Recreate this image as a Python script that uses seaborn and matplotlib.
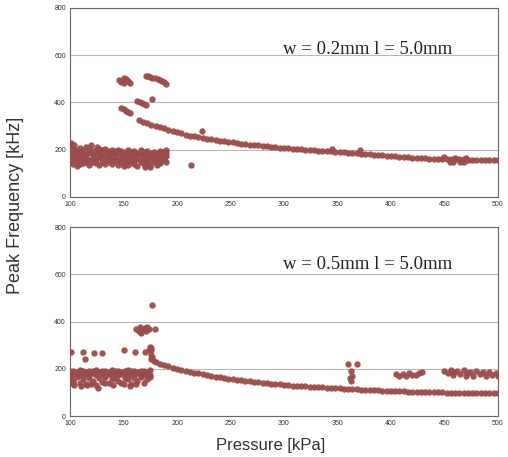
import numpy as np
import pandas as pd
import matplotlib
matplotlib.use("Agg")
import matplotlib.pyplot as plt
import seaborn as sns

# ---------------- top panel: w = 0.2mm ----------------
top_curve_p = [164, 168, 172, 176, 180, 184, 188, 192, 196, 200, 204, 208, 212, 216, 220,
               224, 228, 232, 236, 240, 244, 248, 252, 256, 260, 264, 268, 272, 276, 280,
               284, 288, 292, 296, 300, 304, 308, 312, 316, 320, 324, 328, 332, 336, 340,
               344, 348, 352, 356, 360, 364, 368, 372, 376, 380, 384, 388, 392, 396, 400,
               404, 408, 412, 416, 420, 424, 428, 432, 436, 440, 444, 448, 452, 456, 460,
               464, 468, 472, 476, 480, 484, 488, 492, 496, 500]
top_curve_f = [324, 318, 312, 306, 300, 295, 290, 284, 279, 274, 269, 264, 260, 256, 252,
               249, 246, 244, 242, 239, 236, 234, 231, 229, 226, 224, 222, 220, 218, 216,
               214, 212, 211, 209, 207, 206, 204, 203, 201, 200, 199, 197, 196, 195, 194,
               193, 192, 190, 189, 187, 186, 185, 183, 182, 180, 179, 177, 176, 174, 173,
               172, 170, 169, 168, 166, 165, 164, 163, 162, 162, 161, 161, 160, 160, 159,
               159, 159, 158, 158, 158, 158, 157, 157, 157, 157]

top_band_p = [100, 103, 106, 109, 112, 115, 118, 121, 124, 127, 130, 133, 136, 139, 142, 145,
              148, 151, 154, 157, 160, 163, 166, 169, 172, 175, 178, 181, 184, 187, 190]
top_band_hi = [215, 205, 200, 208, 198, 210, 203, 196, 200, 205, 198, 202, 195, 199, 193, 200,
               196, 190, 198, 192, 195, 188, 197, 190, 194, 186, 192, 188, 195, 190, 200]
top_band_mid = [186, 182, 190, 184, 188, 180, 186, 183, 189, 181, 187, 184, 180, 185, 182, 186,
                180, 184, 178, 183, 181, 176, 184, 179, 182, 175, 180, 178, 184, 176, 185]
top_band_lo = [168, 162, 170, 160, 166, 164, 158, 167, 161, 168, 163, 158, 165, 160, 166, 158,
               164, 160, 155, 166, 159, 162, 157, 165, 160, 158, 164, 156, 162, 168, 172]
top_band_bot = [148, 140, 152, 138, 145, 150, 136, 147, 142, 134, 150, 140, 146, 138, 152, 137,
                148, 143, 135, 150, 140, 132, 148, 138, 145, 128, 150, 135, 142, 155, 150]

top_extra_p = [101, 104, 120, 125, 106, 150, 170, 175, 183, 188,
               146, 148, 150, 150, 152, 154, 156,
               148, 150, 152, 154, 156,
               163, 165, 167, 169, 171, 177,
               171, 173, 175, 177, 179, 182, 184, 186, 188, 190,
               223, 213, 345, 371,
               450, 455, 460, 465, 470, 458, 468]
top_extra_f = [228, 222, 218, 212, 130, 130, 125, 132, 150, 160,
               495, 488, 482, 505, 498, 490, 484,
               378, 372, 366, 360, 354,
               405, 400, 396, 392, 388, 415,
               512, 510, 507, 504, 502, 500, 496, 492, 486, 480,
               278, 136, 201, 200,
               168, 148, 166, 146, 165, 150, 150]

# ---------------- bottom panel: w = 0.5mm ----------------
bot_curve_p = [176, 178, 180, 184, 188, 192, 196, 200, 204, 208, 212, 216, 220, 224, 228,
               232, 236, 240, 244, 248, 252, 256, 260, 264, 268, 272, 276, 280, 284, 288,
               292, 296, 300, 304, 308, 312, 316, 320, 324, 328, 332, 336, 340, 344, 348,
               352, 356, 360, 364, 368, 372, 376, 380, 384, 388, 392, 396, 400, 404, 408,
               412, 416, 420, 424, 428, 432, 436, 440, 444, 448, 452, 456, 460, 464, 468,
               472, 476, 480, 484, 488, 492, 496, 500]
bot_curve_f = [240, 232, 228, 222, 216, 210, 205, 200, 196, 192, 188, 184, 180, 176, 173,
               170, 167, 164, 161, 158, 156, 153, 151, 149, 147, 145, 143, 141, 139, 137,
               135, 134, 132, 131, 129, 128, 127, 125, 124, 123, 122, 121, 120, 119, 118,
               117, 116, 115, 114, 113, 112, 111, 110, 109, 108, 107, 106, 105, 105, 104,
               104, 103, 103, 102, 102, 101, 101, 100, 100, 100, 99, 99, 99, 98, 98,
               98, 98, 97, 97, 97, 97, 96, 96]

bot_band_p = [100, 103, 106, 109, 112, 115, 118, 121, 124, 127, 130, 133, 136, 139, 142, 145,
              148, 151, 154, 157, 160, 163, 166, 169, 172, 175]
bot_band_hi = [190, 192, 188, 193, 190, 186, 192, 189, 194, 188, 191, 190, 187, 193, 189, 192,
               188, 190, 194, 189, 191, 187, 192, 190, 188, 193]
bot_band_mid = [178, 172, 180, 175, 170, 178, 174, 180, 172, 176, 179, 171, 177, 175, 180, 173,
                176, 178, 171, 177, 174, 180, 172, 176, 178, 174]
bot_band_lo = [160, 150, 165, 140, 158, 135, 162, 148, 130, 160, 145, 165, 138, 155, 162, 150,
               140, 163, 158, 135, 160, 150, 165, 140, 158, 165]

bot_extra_p = [101, 104, 110, 116, 120, 126, 133, 140, 150, 156, 162, 100, 103,
               101, 112, 114, 122, 130, 150, 161, 170, 174, 175,
               162, 164, 165, 166, 168, 170, 171, 172, 174, 179, 177,
               176, 176, 176, 177,
               360, 368, 363, 362, 364, 363,
               405, 408, 411, 414, 417, 420, 423, 426, 429,
               450, 453, 456, 459, 462, 465, 468, 471, 474, 477, 480, 483, 486, 489,
               492, 495, 498, 500, 458, 470]
bot_extra_f = [140, 132, 128, 130, 135, 120, 138, 132, 136, 128, 135, 150, 145,
               272, 272, 242, 266, 268, 280, 271, 272, 280, 293,
               370, 360, 375, 352, 365, 372, 358, 378, 368, 368, 470,
               290, 280, 260, 250,
               222, 222, 190, 163, 168, 147,
               178, 170, 176, 168, 180, 172, 175, 182, 185,
               192, 182, 195, 185, 190, 178, 195, 183, 188, 170, 192, 178, 185, 170,
               188, 175, 182, 168, 172, 170]


def panel_frame(curve_p, curve_f, band_p, band_rows, extra_p, extra_f):
    xs = list(curve_p) + list(extra_p)
    ys = list(curve_f) + list(extra_f)
    for row in band_rows:
        xs += list(band_p)
        ys += list(row)
    return pd.DataFrame({"Pressure": xs, "Freq": ys})


top_df = panel_frame(top_curve_p, top_curve_f, top_band_p,
                     [top_band_hi, top_band_mid, top_band_lo, top_band_bot],
                     top_extra_p, top_extra_f)
bot_df = panel_frame(bot_curve_p, bot_curve_f, bot_band_p,
                     [bot_band_hi, bot_band_mid, bot_band_lo],
                     bot_extra_p, bot_extra_f)

sns.set_style("white")
plt.rcParams["font.family"] = ["Liberation Sans", "DejaVu Sans"]

fig = plt.figure(figsize=(5.08, 4.57), dpi=100)
ax1 = fig.add_axes([0.138, 0.569, 0.842, 0.4135])
ax2 = fig.add_axes([0.138, 0.0897, 0.842, 0.4135])

dot = "#9b4c4c"
labels = ["w = 0.2mm l = 5.0mm", "w = 0.5mm l = 5.0mm"]
label_y = [625, 640]

for ax, df, lab, ly in zip([ax1, ax2], [top_df, bot_df], labels, label_y):
    sns.scatterplot(data=df, x="Pressure", y="Freq", ax=ax, color=dot,
                    s=21, linewidth=0, alpha=0.95, zorder=3)
    ax.set_xlim(100, 500)
    ax.set_ylim(0, 800)
    ax.set_xticks(np.arange(100, 501, 50))
    ax.set_yticks(np.arange(0, 801, 200))
    ax.yaxis.grid(True, color="#b8b8b8", linewidth=0.8)
    ax.xaxis.grid(False)
    ax.tick_params(axis="both", labelsize=5, length=0, pad=3, colors="#333333")
    for sp in ax.spines.values():
        sp.set_color("#666666")
        sp.set_linewidth(0.8)
    ax.set_xlabel("")
    ax.set_ylabel("")
    ax.text(378, ly, lab, ha="center", va="center", fontsize=13.5,
            family="Liberation Serif", color="#222222")

fig.text(0.03, 0.551, "Peak Frequency [kHz]", rotation=90, ha="center", va="center",
         fontsize=13, color="#333333")
fig.text(0.533, 0.026, "Pressure [kPa]", ha="center", va="center",
         fontsize=12, color="#333333")

fig.savefig("out.png", dpi=100)
